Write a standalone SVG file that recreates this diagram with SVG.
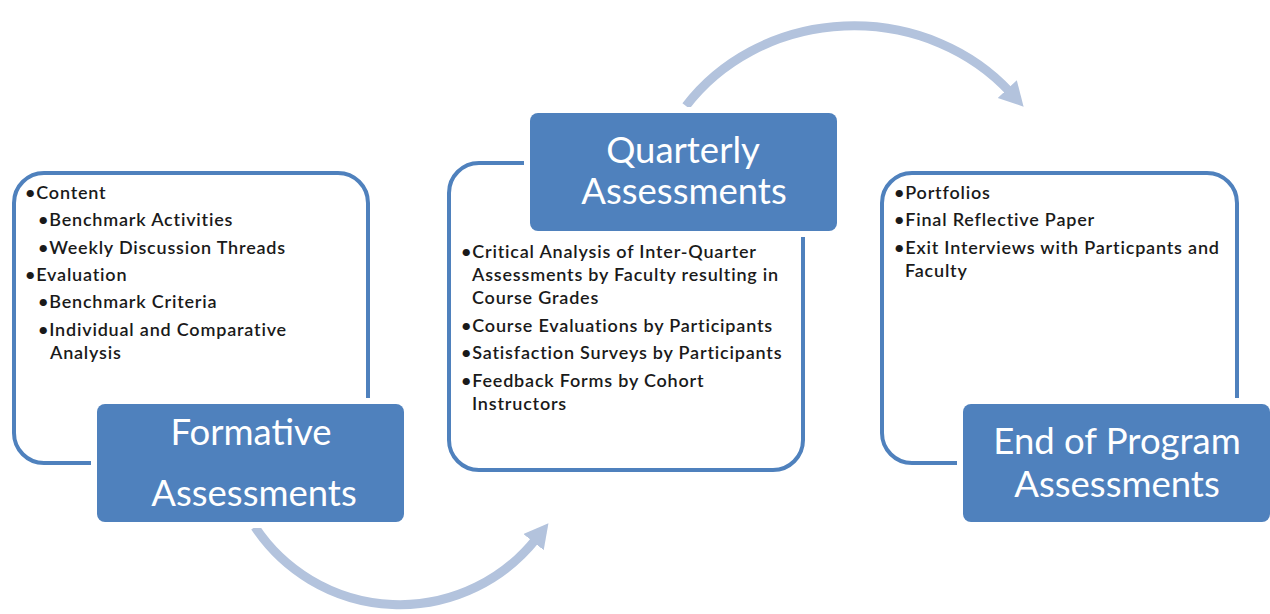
<svg xmlns="http://www.w3.org/2000/svg" width="1270" height="614" viewBox="0 0 1270 614">
<style>
.outer{fill:#ffffff;stroke:#4f81bd;stroke-width:4}
.gap{fill:#ffffff}
.label{fill:#4f81bd}
.title{font-family:Lato,"Liberation Sans",sans-serif;font-size:36.5px;fill:#ffffff;text-anchor:middle}
.body{font-family:Lato,"Liberation Sans",sans-serif;font-size:18px;font-weight:600;letter-spacing:0.8px;fill:#1a1a1a}
.arc{fill:none;stroke:#b3c3dd;stroke-width:9}
</style>
<defs>
<marker id="ah" markerUnits="userSpaceOnUse" markerWidth="30" markerHeight="30" refX="4" refY="13" orient="auto">
<path d="M0,0 L24,13 L0,26 Z" fill="#b3c3dd"/>
</marker>
</defs>
<rect width="1270" height="614" fill="#ffffff"/>
<g id="connectors">
<path class="arc" d="M 255 527 A 174 174 0 0 0 536 539" marker-end="url(#ah)"/>
<path class="arc" d="M 686 106 A 205 188 0 0 1 1010 92" marker-end="url(#ah)"/>
</g>
<g id="formative">
<rect class="outer" x="14" y="173" width="354" height="290" rx="30"/>
<rect class="gap" x="91" y="398" width="319" height="130" rx="12"/>
<rect class="label" x="97" y="404" width="307" height="118" rx="8"/>
<text class="title" x="251" y="445">Formative</text>
<text class="title" x="254" y="506">Assessments</text>
<text class="body" x="25" y="199">•Content</text>
<text class="body" x="38" y="226">•Benchmark Activities</text>
<text class="body" x="38" y="254">•Weekly Discussion Threads</text>
<text class="body" x="25" y="281">•Evaluation</text>
<text class="body" x="38" y="308">•Benchmark Criteria</text>
<text class="body" x="38" y="336">•Individual and Comparative</text>
<text class="body" x="50" y="359">Analysis</text>
</g>
<g id="quarterly">
<rect class="outer" x="449" y="163" width="354" height="307" rx="30"/>
<rect class="gap" x="524" y="107" width="319" height="130" rx="12"/>
<rect class="label" x="530" y="113" width="307" height="118" rx="8"/>
<text class="title" x="683" y="163">Quarterly</text>
<text class="title" x="684" y="204">Assessments</text>
<text class="body" x="461" y="258">•Critical Analysis of Inter-Quarter</text>
<text class="body" x="472" y="281">Assessments by Faculty resulting in</text>
<text class="body" x="472" y="304">Course Grades</text>
<text class="body" x="461" y="332">•Course Evaluations by Participants</text>
<text class="body" x="461" y="359">•Satisfaction Surveys by Participants</text>
<text class="body" x="461" y="387">•Feedback Forms by Cohort</text>
<text class="body" x="472" y="410">Instructors</text>
</g>
<g id="endofprogram">
<rect class="outer" x="882" y="173" width="355" height="290" rx="30"/>
<rect class="gap" x="957" y="398" width="319" height="130" rx="12"/>
<rect class="label" x="963" y="404" width="307" height="118" rx="8"/>
<text class="title" x="1117" y="454">End of Program</text>
<text class="title" x="1117" y="497">Assessments</text>
<text class="body" x="894" y="199">•Portfolios</text>
<text class="body" x="894" y="226">•Final Reflective Paper</text>
<text class="body" x="894" y="254">•Exit Interviews with Particpants and</text>
<text class="body" x="905" y="277">Faculty</text>
</g>
</svg>
